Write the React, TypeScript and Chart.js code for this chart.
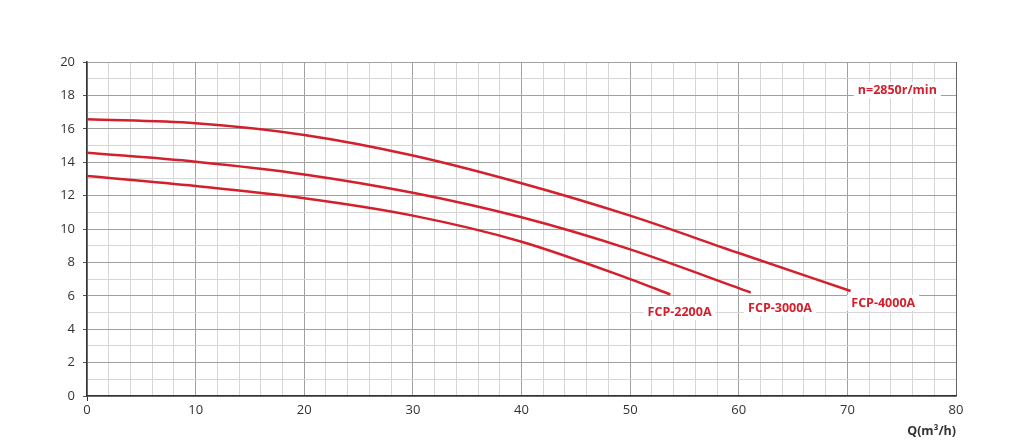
import React, { useEffect, useRef } from "react";
import { Chart, registerables } from "chart.js";

Chart.register(...registerables);

const flow2200 = [0, 10, 20, 30, 40, 50, 53.7];
const head2200 = [13.17, 12.57, 11.84, 10.8, 9.24, 7.0, 6.08];
const flow3000 = [0, 10, 20, 30, 40, 50, 61.1];
const head3000 = [14.57, 14.03, 13.27, 12.17, 10.7, 8.78, 6.2];
const flow4000 = [0, 10, 20, 30, 40, 50, 60, 70.3];
const head4000 = [16.57, 16.33, 15.63, 14.4, 12.74, 10.8, 8.56, 6.29];

const seriesNames = ["FCP-2200A", "FCP-3000A", "FCP-4000A"];
const speedLabel = "n=2850r/min";
const xTitle = "Q(m³/h)";

const RED = "#d41f2c";

const labelPlugin = {
  id: "curveLabels",
  afterDatasetsDraw(chart: any) {
    const ctx = chart.ctx;
    const xs = chart.scales.x;
    const ys = chart.scales.y;
    const items: [string, number, number][] = [
      [seriesNames[0], 54.55, 5.03],
      [seriesNames[1], 63.8, 5.27],
      [seriesNames[2], 73.3, 5.57],
      [speedLabel, 74.6, 18.32],
    ];
    ctx.save();
    ctx.font = "bold 12.5px 'Open Sans'";
    ctx.textAlign = "center";
    ctx.textBaseline = "middle";
    for (const [t, vx, vy] of items) {
      const px = xs.getPixelForValue(vx);
      const py = ys.getPixelForValue(vy);
      const w = ctx.measureText(t).width;
      ctx.fillStyle = "#ffffff";
      ctx.fillRect(px - w / 2 - 4, py - 8, w + 8, 16);
      ctx.fillStyle = RED;
      ctx.fillText(t, px, py);
    }
    ctx.restore();
  },
};

function toPts(xs: number[], ys: number[]) {
  return xs.map((x, i) => ({ x, y: ys[i] }));
}

export default function App() {
  const ref = useRef<HTMLCanvasElement | null>(null);
  useEffect(() => {
    if (!ref.current) return;
    const mk = (label: string, data: any) => ({
      label,
      data,
      borderColor: RED,
      backgroundColor: RED,
      borderWidth: 2.5,
      pointRadius: 0,
      cubicInterpolationMode: "monotone",
      fill: false,
    });
    const chart = new Chart(ref.current, {
      type: "line",
      data: {
        datasets: [
          mk(seriesNames[0], toPts(flow2200, head2200)),
          mk(seriesNames[1], toPts(flow3000, head3000)),
          mk(seriesNames[2], toPts(flow4000, head4000)),
        ],
      },
      options: {
        responsive: false,
        animation: false,
        layout: { padding: { top: 62, right: 68, left: 0, bottom: 0 } },
        plugins: { legend: { display: false }, tooltip: { enabled: false } },
        scales: {
          x: {
            type: "linear",
            min: 0,
            max: 80,
            afterFit(s: any) {
              s.height = 52;
            },
            ticks: {
              stepSize: 2,
              autoSkip: false,
              maxRotation: 0,
              color: "#333",
              font: { family: "'Open Sans'", size: 13 },
              padding: 1,
              callback: (v: any) => (Number(v) % 10 === 0 ? String(v) : ""),
            },
            grid: {
              color: (c: any) =>
                c.tick && c.tick.value === 80
                  ? "#666"
                  : c.tick && c.tick.value % 10 === 0
                  ? "#a0a0a0"
                  : "#d6d6d6",
              tickColor: (c: any) =>
                c.tick && c.tick.value === 0 ? "#333" : "rgba(0,0,0,0)",
              tickLength: 5,
              lineWidth: 1,
            },
            border: { color: "#333", width: 1.5 },
            title: {
              display: true,
              text: xTitle,
              align: "end",
              color: "#333",
              font: { family: "'Open Sans'", size: 12.5, weight: "bold" },
              padding: { top: 0, bottom: 9 },
            },
          },
          y: {
            min: 0,
            max: 20,
            afterFit(s: any) {
              s.width = 87;
            },
            ticks: {
              stepSize: 1,
              autoSkip: false,
              color: "#333",
              font: { family: "'Open Sans'", size: 13 },
              padding: 8,
              callback: (v: any) => (Number(v) % 2 === 0 ? String(v) : ""),
            },
            grid: {
              color: (c: any) =>
                c.tick && c.tick.value % 2 === 0 ? "#a0a0a0" : "#d6d6d6",
              tickColor: (c: any) =>
                c.tick && c.tick.value % 2 === 0 ? "#555" : "rgba(0,0,0,0)",
              tickLength: 4,
              lineWidth: 1,
            },
            border: { color: "#333", width: 1.5 },
          },
        },
      } as any,
      plugins: [labelPlugin],
    });
    return () => chart.destroy();
  }, []);
  return (
    <div style={{ position: "fixed", left: 0, top: 0, width: 1024, height: 448, background: "#fff" }}>
      <canvas ref={ref} width={1024} height={448} style={{ width: 1024, height: 448 }} />
    </div>
  );
}
